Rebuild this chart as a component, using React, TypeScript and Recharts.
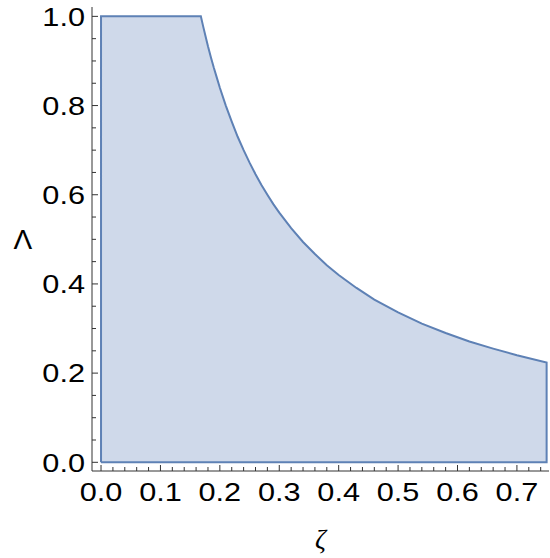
import { ComposedChart, Area, XAxis, YAxis, Label } from 'recharts'

// boundary of the allowed region, walked counter-clockwise from the origin
const zeta = [
  0, 0, 0.168, 0.172, 0.176, 0.18, 0.185, 0.19, 0.195, 0.2, 0.21, 0.22, 0.23, 0.24, 0.25, 0.26, 0.27,
  0.28, 0.29, 0.3, 0.32, 0.34, 0.36, 0.38, 0.4, 0.43, 0.46, 0.5, 0.54, 0.58, 0.62, 0.66, 0.7, 0.75,
  0.75, 0,
]
const lambda = [
  0, 1, 1, 0.977, 0.955, 0.933, 0.908, 0.884, 0.862, 0.84, 0.8, 0.764, 0.73, 0.7, 0.672, 0.646, 0.622,
  0.6, 0.579, 0.56, 0.525, 0.494, 0.467, 0.442, 0.42, 0.391, 0.365, 0.336, 0.311, 0.29, 0.271, 0.255,
  0.24, 0.224, 0, 0,
]

const xMajor = [0, 0.1, 0.2, 0.3, 0.4, 0.5, 0.6, 0.7]
const yMajor = [0, 0.2, 0.4, 0.6, 0.8, 1.0]

const xTicks = Array.from({ length: 38 }, (_, i) => i * 0.02)
const yTicks = Array.from({ length: 21 }, (_, i) => i * 0.05)

const data = zeta.map((z, i) => ({ z, l: lambda[i] }))

const FRAME = '#333'
const LABEL_FONT = '"Liberation Sans", Arial, sans-serif'

const isMajor = (v: number, majors: number[]) => majors.some((m) => Math.abs(m - v) < 1e-6)

// tick labels are set a little wide
function TickText({ x, y, anchor, children }: any) {
  return (
    <text
      transform={`translate(${x},${y}) scale(1.18,1)`}
      textAnchor={anchor}
      fontSize={26}
      fontFamily={LABEL_FONT}
      fill="#000"
    >
      {children}
    </text>
  )
}

function BottomTick({ x, y, payload }: any) {
  const major = isMajor(payload.value, xMajor)
  return (
    <g>
      <line x1={x} y1={y} x2={x} y2={y - (major ? 6 : 4)} stroke={FRAME} strokeWidth={1} />
      {major && (
        <TickText x={x} y={y + 30} anchor="middle">
          {Number(payload.value).toFixed(1)}
        </TickText>
      )}
    </g>
  )
}

function TopTick({ x, y, payload }: any) {
  const major = isMajor(payload.value, xMajor)
  return <line x1={x} y1={y} x2={x} y2={y + (major ? 6 : 4)} stroke={FRAME} strokeWidth={1} />
}

function LeftTick({ x, y, payload }: any) {
  const major = isMajor(payload.value, yMajor)
  return (
    <g>
      <line x1={x} y1={y} x2={x + (major ? 6 : 4)} y2={y} stroke={FRAME} strokeWidth={1} />
      {major && (
        <TickText x={x - 7} y={y + 9.3} anchor="end">
          {Number(payload.value).toFixed(1)}
        </TickText>
      )}
    </g>
  )
}

export default function App() {
  return (
    <div style={{ position: 'absolute', left: 0, top: 0, width: 550, height: 558, background: '#fff' }}>
      <ComposedChart width={550} height={558} data={data} margin={{ top: 7, right: 1, bottom: 0, left: 0 }}>
        <XAxis
          dataKey="z"
          type="number"
          domain={[-0.0152, 0.754]}
          allowDataOverflow
          ticks={xTicks}
          interval={0}
          tick={<BottomTick />}
          tickLine={false}
          tickSize={0}
          tickMargin={0}
          height={87}
          axisLine={{ stroke: FRAME, strokeWidth: 1 }}
        >
          <Label
            content={({ viewBox }: any) => (
              <text
                x={viewBox.x + viewBox.width / 2}
                y={viewBox.y + 77}
                textAnchor="middle"
                fontSize={27}
                fontStyle="italic"
                fontFamily='"Liberation Serif", "Times New Roman", serif'
                fill="#000"
              >
                ζ
              </text>
            )}
          />
        </XAxis>
        <XAxis
          xAxisId="top"
          dataKey="z"
          type="number"
          orientation="top"
          domain={[-0.0152, 0.754]}
          allowDataOverflow
          ticks={xTicks}
          interval={0}
          tick={<TopTick />}
          tickLine={false}
          tickSize={0}
          tickMargin={0}
          height={0}
          axisLine={{ stroke: FRAME, strokeWidth: 1 }}
        />
        <YAxis
          type="number"
          domain={[-0.0195, 1.021]}
          allowDataOverflow
          ticks={yTicks}
          interval={0}
          tick={<LeftTick />}
          tickLine={false}
          tickSize={0}
          tickMargin={0}
          width={92}
          axisLine={{ stroke: FRAME, strokeWidth: 1 }}
        >
          <Label
            content={({ viewBox }: any) => (
              <text
                x={22.8}
                y={viewBox.y + 242}
                textAnchor="middle"
                fontSize={28}
                fontFamily={LABEL_FONT}
                fill="#000"
              >
                Λ
              </text>
            )}
          />
        </YAxis>
        <Area
          dataKey="l"
          type="linear"
          fill="#CFD9EA"
          fillOpacity={1}
          stroke="#5E81B5"
          strokeWidth={2}
          dot={false}
          activeDot={false}
          isAnimationActive={false}
        />
      </ComposedChart>
    </div>
  )
}
